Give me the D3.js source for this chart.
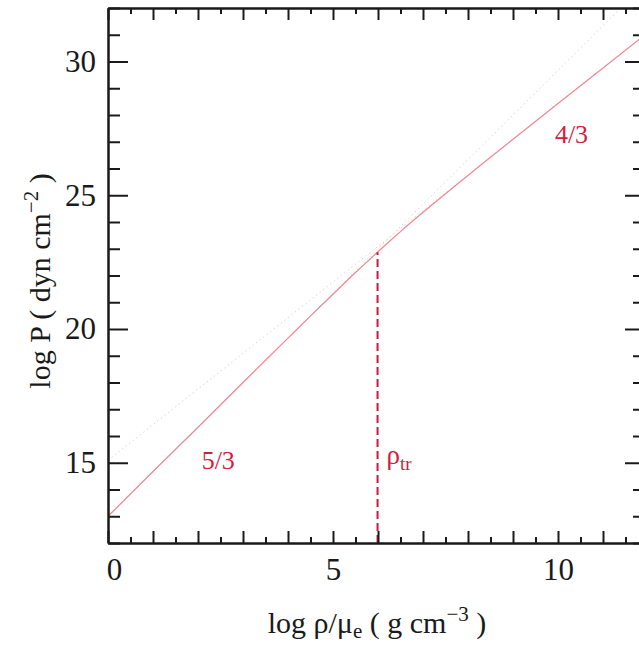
<!DOCTYPE html>
<html>
<head>
<meta charset="utf-8">
<script src="https://cdn.jsdelivr.net/npm/d3@7"></script>
<style>
  html, body { margin: 0; padding: 0; background: #fff; }
  svg { display: block; }
  text { font-family: "Liberation Serif", "Times New Roman", serif; }
</style>
</head>
<body>
<svg id="chart" width="639" height="645"></svg>
<script>
// Degenerate electron gas equation of state: log P against log(rho/mu_e)
const logRho = [0, 1, 2, 3, 3.5, 4, 4.5, 5, 5.5, 5.75, 6, 6.25, 6.5, 7, 7.5, 8, 8.5, 9, 10, 11, 12];
const logP   = [13.00, 14.67, 16.33, 18.00, 18.83, 19.66, 20.49, 21.30, 22.11, 22.50, 22.89, 23.27, 23.64, 24.36, 25.06, 25.74, 26.42, 27.09, 28.43, 29.76, 31.09];

// Limiting power laws (dotted): non-relativistic 5/3 and relativistic 4/3
const nonRelRho = [0, 12];
const nonRelP   = [13.00, 33.00];
const relRho    = [0, 12];
const relP      = [15.09, 31.09];

// Transition density (x_F = 1)
const rhoTr  = 5.99;
const pAtTr  = 22.87;

const xMajor = d3.range(0, 12.5, 1);
const xMinor = d3.range(0.5, 12.5, 1);
const xLabels = [0, 5, 10];
const yMajor = [15, 20, 25, 30];
const yMinor = [12, 13, 14, 16, 17, 18, 19, 21, 22, 23, 24, 26, 27, 28, 29, 31, 32];

const slopeLabels = [
  { text: "5/3", x: 2.45, y: 14.75 },
  { text: "4/3", x: 10.3, y: 26.95 }
];

const svg = d3.select("#chart");
const frame = { left: 108, top: 8, right: 645, bottom: 543 };

const x = d3.scaleLinear().domain([0, (frame.right - frame.left) / 45]).range([frame.left, frame.right]);
const y = d3.scaleLinear().domain([12, 32]).range([frame.bottom, frame.top]);

svg.append("defs").append("clipPath").attr("id", "plotClip")
  .append("rect").attr("x", frame.left).attr("y", frame.top)
  .attr("width", frame.right - frame.left).attr("height", frame.bottom - frame.top);

const plot = svg.append("g").attr("clip-path", "url(#plotClip)");

// dotted asymptotes
const asymLine = d3.line().x(d => x(d[0])).y(d => y(d[1]));
[[nonRelRho, nonRelP], [relRho, relP]].forEach(([xs, ys]) => {
  plot.append("path")
    .attr("d", asymLine(d3.zip(xs, ys)))
    .attr("fill", "none")
    .attr("stroke", "#ebcdd0")
    .attr("stroke-width", 1)
    .attr("stroke-dasharray", "1.5,3");
});

// full equation of state
plot.append("path")
  .attr("d", d3.line().curve(d3.curveMonotoneX).x(d => x(d[0])).y(d => y(d[1]))(d3.zip(logRho, logP)))
  .attr("fill", "none")
  .attr("stroke", "#ee8c96")
  .attr("stroke-width", 1.3);

// transition density marker
plot.append("line")
  .attr("x1", x(rhoTr)).attr("x2", x(rhoTr))
  .attr("y1", y(12)).attr("y2", y(pAtTr))
  .attr("stroke", "#c81a3c")
  .attr("stroke-width", 2)
  .attr("stroke-dasharray", "8,4");

// axes: ticks point inward on all four sides
function styleAxis(g) {
  g.select(".domain").attr("stroke", "#1a1a1a").attr("stroke-width", 2);
  g.selectAll(".tick line").attr("stroke", "#1a1a1a").attr("stroke-width", 2);
  g.selectAll(".tick text").attr("fill", "#1a1a1a").style("font-size", "31px")
    .style("font-family", '"Liberation Serif", "Times New Roman", serif');
}

svg.append("g").attr("transform", `translate(0,${frame.bottom})`)
  .call(d3.axisBottom(x).tickValues(xMinor).tickSize(-6).tickSizeOuter(0).tickFormat(""))
  .call(styleAxis);
svg.append("g").attr("transform", `translate(0,${frame.bottom})`)
  .call(d3.axisBottom(x).tickValues(xMajor).tickSize(-12).tickSizeOuter(0).tickPadding(15)
    .tickFormat(d => xLabels.includes(d) ? d : ""))
  .call(styleAxis)
  .call(g => g.selectAll(".tick text").filter(d => d === 0).attr("dx", 6));

svg.append("g").attr("transform", `translate(0,${frame.top})`)
  .call(d3.axisTop(x).tickValues(xMinor).tickSize(-6).tickSizeOuter(0).tickFormat(""))
  .call(styleAxis);
svg.append("g").attr("transform", `translate(0,${frame.top})`)
  .call(d3.axisTop(x).tickValues(xMajor).tickSize(-12).tickSizeOuter(0).tickFormat(""))
  .call(styleAxis);

svg.append("g").attr("transform", `translate(${frame.left},0)`)
  .call(d3.axisLeft(y).tickValues(yMinor).tickSize(-12).tickSizeOuter(0).tickFormat(""))
  .call(styleAxis);
svg.append("g").attr("transform", `translate(${frame.left},0)`)
  .call(d3.axisLeft(y).tickValues(yMajor).tickSize(-20).tickSizeOuter(0).tickPadding(12))
  .call(styleAxis);

svg.append("g").attr("transform", `translate(${frame.right},0)`)
  .call(d3.axisRight(y).tickValues(yMinor).tickSize(-12).tickSizeOuter(0).tickFormat(""))
  .call(styleAxis);
svg.append("g").attr("transform", `translate(${frame.right},0)`)
  .call(d3.axisRight(y).tickValues(yMajor).tickSize(-20).tickSizeOuter(0).tickFormat(""))
  .call(styleAxis);

// slope annotations
svg.selectAll("text.slope").data(slopeLabels).join("text")
  .attr("class", "slope")
  .attr("x", d => x(d.x)).attr("y", d => y(d.y))
  .attr("text-anchor", "middle")
  .attr("fill", "#d41c3c")
  .style("font-size", "26px")
  .text(d => d.text);

const trLabel = svg.append("text")
  .attr("x", x(rhoTr) + 9).attr("y", y(14.95))
  .attr("fill", "#d41c3c")
  .style("font-size", "27px");
trLabel.append("tspan").text("ρ");
trLabel.append("tspan").attr("dy", 6).style("font-size", "19px").text("tr");

// axis titles
const xt = svg.append("text")
  .attr("x", 377).attr("y", 633)
  .attr("text-anchor", "middle")
  .attr("fill", "#1a1a1a")
  .style("font-size", "30px");
xt.append("tspan").text("log ρ/μ");
xt.append("tspan").attr("dy", 5).style("font-size", "21px").text("e");
xt.append("tspan").attr("dy", -5).text(" ( g cm");
xt.append("tspan").attr("dy", -12).style("font-size", "21px").text("−3");
xt.append("tspan").attr("dy", 12).text(" )");

const yt = svg.append("text")
  .attr("transform", "translate(50,281) rotate(-90)")
  .attr("text-anchor", "middle")
  .attr("fill", "#1a1a1a")
  .style("font-size", "30px");
yt.append("tspan").text("log P ( dyn cm");
yt.append("tspan").attr("dy", -12).style("font-size", "21px").text("−2");
yt.append("tspan").attr("dy", 12).text(" )");
</script>
</body>
</html>
